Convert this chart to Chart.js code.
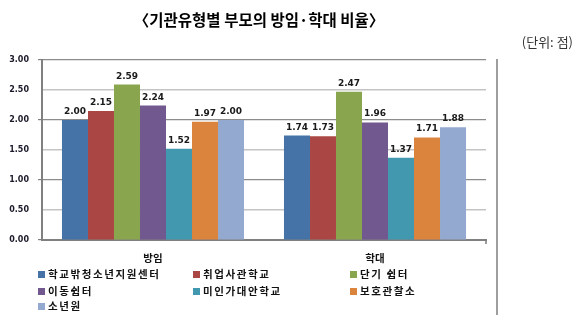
<!DOCTYPE html>
<html>
<head>
<meta charset="utf-8">
<script src="https://cdn.jsdelivr.net/npm/chart.js@4/dist/chart.umd.min.js"></script>
<style>
  html, body { margin: 0; padding: 0; background: #fff; }
  #wrap { position: relative; width: 583px; height: 324px; overflow: hidden; }
  #title { position: absolute; left: 0; width: 518px; top: 9px; text-align: center;
    font: bold 15.5px "Noto Sans CJK KR", sans-serif; color: #000; line-height: 20px; }
  #unit { position: absolute; right: 10px; top: 33px; font: 13px "Noto Sans CJK KR", sans-serif; color: #333; line-height: 17px; }
  .leg { position: absolute; font: bold 10.5px "Noto Sans CJK KR", sans-serif; letter-spacing: 1.6px; color: #111; line-height: 14px; white-space: nowrap; }
  .leg i { display: inline-block; width: 7px; height: 7px; margin-right: 3px; vertical-align: 0px; }
</style>
</head>
<body>
<div id="wrap">
  <canvas id="c" width="583" height="324"></canvas>
  <div id="title">〈기관유형별 부모의 방임·학대 비율〉</div>
  <div id="unit">(단위: 점)</div>
</div>
<script>
const categories = ['방임', '학대'];
const seriesNames = ['학교밖청소년지원센터', '취업사관학교', '단기 쉼터', '이동쉼터', '미인가대안학교', '보호관찰소', '소년원'];
const schoolOutCenter = [2.00, 1.74];
const employmentSchool = [2.15, 1.73];
const shortShelter = [2.59, 2.47];
const mobileShelter = [2.24, 1.96];
const altSchool = [1.52, 1.37];
const probationOffice = [1.97, 1.71];
const juvenileCenter = [2.00, 1.88];
const seriesValues = [schoolOutCenter, employmentSchool, shortShelter, mobileShelter, altSchool, probationOffice, juvenileCenter];
const seriesColors = ['#4572A7', '#AA4643', '#89A54E', '#71588F', '#4198AF', '#DB843D', '#93A9CF'];
const yTicks = [0, 0.5, 1, 1.5, 2, 2.5, 3];

// legend (3 columns)
const legCols = [38, 193, 350];
const legRows = [267, 284, 298.5];
seriesNames.forEach((name, i) => {
  const d = document.createElement('div');
  d.className = 'leg';
  d.style.left = legCols[i % 3] + 'px';
  d.style.top = legRows[Math.floor(i / 3)] + 'px';
  d.innerHTML = '<i style="background:' + seriesColors[i] + '"></i>' + name;
  document.getElementById('wrap').appendChild(d);
});

const valueLabels = {
  id: 'valueLabels',
  afterDatasetsDraw(chart) {
    const ctx = chart.ctx;
    ctx.save();
    ctx.font = 'bold 9px "DejaVu Sans", sans-serif';
    ctx.fillStyle = '#1a1a1a';
    ctx.textAlign = 'center';
    ctx.textBaseline = 'alphabetic';
    chart.data.datasets.forEach((ds, i) => {
      chart.getDatasetMeta(i).data.forEach((bar, j) => {
        ctx.fillText(ds.data[j].toFixed(2), bar.x, bar.y - 6);
      });
    });
    ctx.restore();
  }
};

const frame = {
  id: 'frame',
  afterDraw(chart) {
    const ctx = chart.ctx;
    const a = chart.chartArea;
    ctx.save();
    ctx.strokeStyle = '#7f7f7f';
    ctx.lineWidth = 1.5;
    ctx.beginPath();
    ctx.moveTo(497, 59); ctx.lineTo(497, 315);
    ctx.moveTo(a.right, a.bottom); ctx.lineTo(a.right, a.bottom + 4);
    ctx.stroke();
    ctx.restore();
  }
};

new Chart(document.getElementById('c'), {
  type: 'bar',
  data: {
    labels: categories,
    datasets: seriesNames.map((n, i) => ({
      label: n,
      data: seriesValues[i],
      backgroundColor: seriesColors[i],
      borderWidth: 0,
      categoryPercentage: 0.82,
      barPercentage: 1.0
    }))
  },
  options: {
    responsive: false,
    animation: false,
    layout: { padding: { left: 0, right: 97, top: 60, bottom: 0 } },
    plugins: { legend: { display: false }, tooltip: { enabled: false }, title: { display: false } },
    scales: {
      x: {
        grid: { display: false, drawTicks: false },
        border: { display: true, color: '#808080', width: 2 },
        ticks: { padding: 12, color: '#111', font: { family: '"Noto Sans CJK KR", sans-serif', size: 10.5, weight: 'bold' } },
        afterFit(s) { s.height = 84; }
      },
      y: {
        min: 0, max: 3,
        afterBuildTicks(s) { s.ticks = yTicks.map(v => ({ value: v })); },
        grid: {
          color: c => (c.tick && Math.abs(c.tick.value % 1) < 1e-9) ? '#8c8c8c' : '#c4c4c4',
          lineWidth: c => (c.tick && Math.abs(c.tick.value % 1) < 1e-9) ? 1.2 : 1.6,
          tickColor: c => (c.tick && Math.abs(c.tick.value % 1) < 1e-9) ? '#808080' : 'rgba(0,0,0,0)',
          tickLength: 4,
          drawOnChartArea: true
        },
        border: { display: true, color: '#808080', width: 2 },
        ticks: {
          padding: 9,
          color: '#1a1a2a',
          font: { family: '"DejaVu Sans", sans-serif', size: 8, weight: 'bold' },
          callback: v => Number(v).toFixed(2)
        },
        afterFit(s) { s.width = 42; }
      }
    }
  },
  plugins: [valueLabels, frame]
});
</script>
</body>
</html>
